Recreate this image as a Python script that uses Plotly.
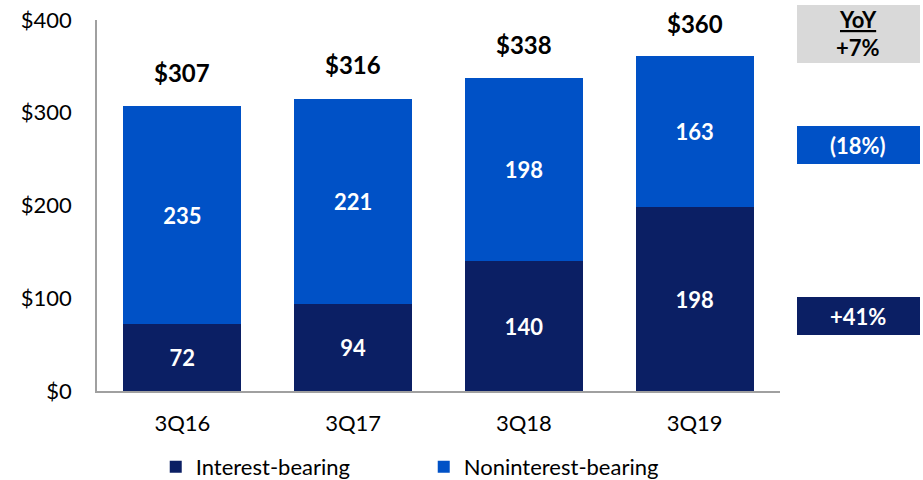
import plotly.graph_objects as go

quarters = ["3Q16", "3Q17", "3Q18", "3Q19"]
interest_bearing = [72, 94, 140, 198]
noninterest_bearing = [235, 221, 198, 163]
totals = [307, 316, 338, 360]
y_ticks = [0, 100, 200, 300, 400]
y_tick_labels = ["$0", "$100", "$200", "$300", "$400"]

DARK = "#0B1F64"
BLUE = "#0051C6"
FONT = "Lato"

fig = go.Figure()
fig.add_trace(go.Bar(
    x=quarters, y=interest_bearing, name="Interest-bearing",
    marker=dict(color=DARK, line=dict(width=0)),
    text=[str(v) for v in interest_bearing], textposition="inside",
    insidetextanchor="middle",
    textfont=dict(color="white", size=22, family=FONT, weight="bold"),
))
fig.add_trace(go.Bar(
    x=quarters, y=noninterest_bearing, name="Noninterest-bearing",
    marker=dict(color=BLUE, line=dict(width=0)),
    text=[str(v) for v in noninterest_bearing], textposition="inside",
    insidetextanchor="middle",
    textfont=dict(color="white", size=22, family=FONT, weight="bold"),
))

for q, t in zip(quarters, totals):
    fig.add_annotation(x=q, y=t, text=f"<b>${t}</b>", showarrow=False,
                       yanchor="bottom", yshift=17,
                       font=dict(size=24, color="black", family=FONT))

# right-hand YoY boxes (reference pixel positions converted to paper coords;
# plot area spans x 97..780, y 20..391 on the page)
def px_x(x):
    return (x - 97) / 683

def px_y(y):
    return (391 - y) / 371

boxes = [
    (5, 63, "#D9D9D9"),
    (126, 164, BLUE),
    (297, 335, DARK),
]
box_texts = [
    (19, "black", "<b><u>YoY</u></b>"),
    (48, "black", "<b>+7%</b>"),
    (145, "white", "<b>(18%)</b>"),
    (316, "white", "<b>+41%</b>"),
]
for (top, bot, fill) in boxes:
    fig.add_shape(type="rect", xref="paper", yref="paper",
                  x0=px_x(797), x1=px_x(920), y0=px_y(bot), y1=px_y(top),
                  fillcolor=fill, line=dict(width=0), layer="below")
for (yc, fc, txt) in box_texts:
    fig.add_annotation(xref="paper", yref="paper", x=px_x(858.5), y=px_y(yc),
                       text=txt, showarrow=False, xanchor="center", yanchor="middle",
                       font=dict(size=22, color=fc, family=FONT))

fig.update_layout(
    barmode="stack", bargap=0.31,
    width=923, height=480,
    margin=dict(l=97, r=143, t=20, b=89, autoexpand=False),
    plot_bgcolor="white", paper_bgcolor="white",
    font=dict(family=FONT, size=22, color="black"),
    showlegend=True,
    legend=dict(orientation="h", x=0.086, y=-0.205, xanchor="left", yanchor="middle",
                entrywidth=223, entrywidthmode="pixels",
                font=dict(size=22, family=FONT), traceorder="normal"),
    xaxis=dict(showline=True, linecolor="#A0A0A0", linewidth=1.5, ticks="",
               tickfont=dict(size=22), showgrid=False, ticklabelstandoff=12),
    yaxis=dict(range=[0, 400], tickvals=y_ticks, ticktext=y_tick_labels,
               showline=True, linecolor="#A0A0A0", linewidth=1.5, ticks="",
               showgrid=False, zeroline=False, tickfont=dict(size=22),
               ticklabelstandoff=19, ticklabeloverflow="allow"),
    uniformtext=dict(minsize=22, mode="show"),
)

# remove the browser's default 8px body margin so the figure fills the window
fig.write_html("out.html",
               config={"displayModeBar": False},
               post_script="document.body.style.margin='0';document.body.style.overflow='hidden';")
